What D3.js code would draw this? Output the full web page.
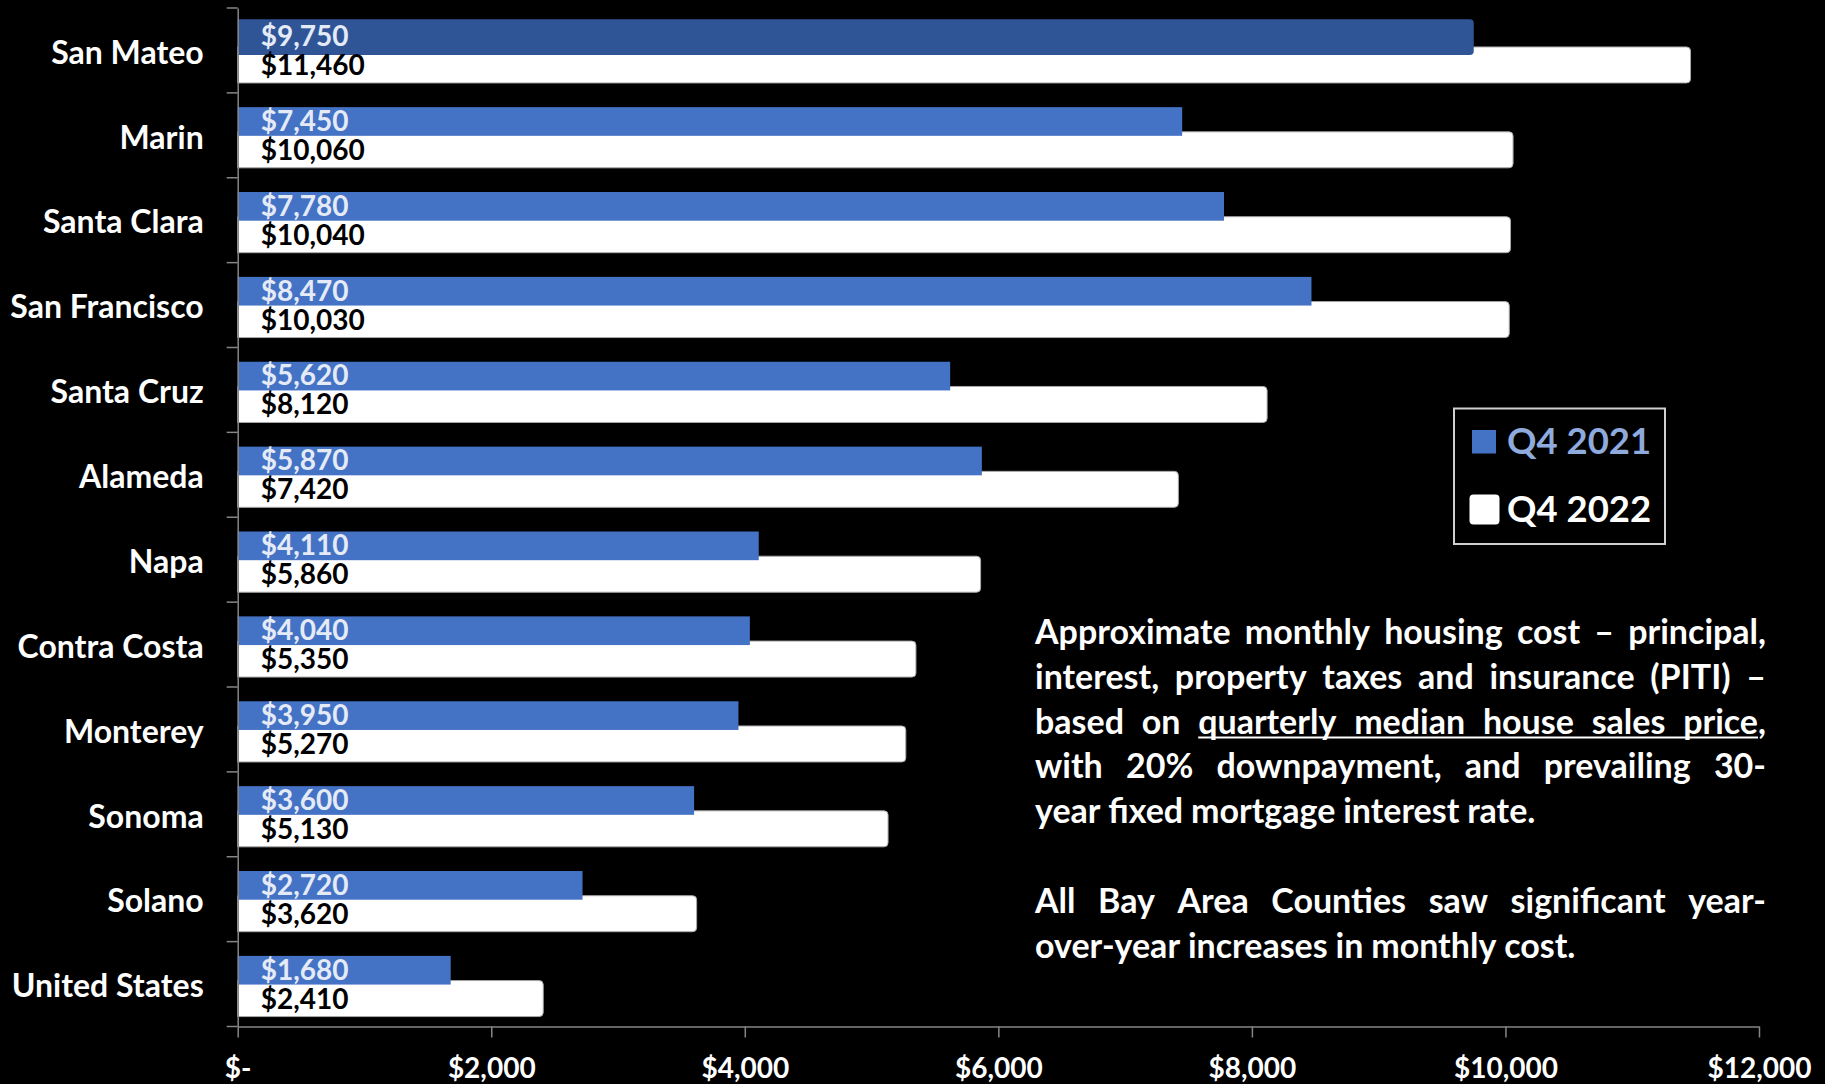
<!DOCTYPE html>
<html>
<head>
<meta charset="utf-8">
<script src="https://cdn.jsdelivr.net/npm/d3@7"></script>
<style>
  html, body { margin: 0; padding: 0; background: #000; }
  svg { display: block; }
  text { font-family: Lato, "Open Sans", sans-serif; font-weight: 700; }
</style>
</head>
<body>
<svg id="chart" width="1825" height="1084"></svg>
<script>
// ---- data ----
const categories = ["San Mateo","Marin","Santa Clara","San Francisco","Santa Cruz","Alameda","Napa","Contra Costa","Monterey","Sonoma","Solano","United States"];
const q4_2021 = [9750,7450,7780,8470,5620,5870,4110,4040,3950,3600,2720,1680];
const q4_2022 = [11460,10060,10040,10030,8120,7420,5860,5350,5270,5130,3620,2410];
const seriesNames = ["Q4 2021","Q4 2022"];
const xTickValues = [0,2000,4000,6000,8000,10000,12000];
const xTickLabels = ["$-","$2,000","$4,000","$6,000","$8,000","$10,000","$12,000"];
const highlighted = "San Mateo";
const noteParagraphs = [
  [
    [{t:"Approximate"},{t:"monthly"},{t:"housing"},{t:"cost"},{t:"–"},{t:"principal,"}],
    [{t:"interest,"},{t:"property"},{t:"taxes"},{t:"and"},{t:"insurance"},{t:"(PITI)"},{t:"–"}],
    [{t:"based"},{t:"on"},{t:"quarterly",u:true},{t:"median",u:true},{t:"house",u:true},{t:"sales",u:true},{t:"price",u:true,s:","}],
    [{t:"with"},{t:"20%"},{t:"downpayment,"},{t:"and"},{t:"prevailing"},{t:"30-"}],
    [{t:"year"},{t:"fixed"},{t:"mortgage"},{t:"interest"},{t:"rate."}]
  ],
  [
    [{t:"All"},{t:"Bay"},{t:"Area"},{t:"Counties"},{t:"saw"},{t:"significant"},{t:"year-"}],
    [{t:"over-year"},{t:"increases"},{t:"in"},{t:"monthly"},{t:"cost."}]
  ]
];

// ---- styles ----
const BLUE = "#4472C4", BLUE_HI = "#2F5597", WHITE = "#FFFFFF";
const AXIS = "#868686";

const svg = d3.select("#chart");
svg.append("rect").attr("width",1825).attr("height",1084).attr("fill","#000");

const x = d3.scaleLinear().domain([0,12000]).range([237.7,1759]);
const y = d3.scaleBand().domain(categories).range([8,1026.5]).padding(0);
const bw = y.bandwidth();
const whiteH = bw*0.424, blueH = bw*0.338;
const blueOff = bw*0.168, whiteOff = bw*0.459;

const data = categories.map((c,i)=>({c, a:q4_2021[i], b:q4_2022[i]}));

function roundRight(x0, x1, y0, h, r){
  const y1 = y0+h;
  return `M${x0},${y0}H${x1-r}Q${x1},${y0} ${x1},${y0+r}V${y1-r}Q${x1},${y1} ${x1-r},${y1}H${x0}Z`;
}

// white bars
svg.append("g").selectAll("path").data(data).join("path")
  .attr("d", d=>roundRight(x(0), x(d.b), y(d.c)+whiteOff, whiteH, 4))
  .attr("fill", WHITE).attr("stroke","#a8a8a8").attr("stroke-width",1);

// blue bars (drawn on top of white)
svg.append("g").selectAll("rect").data(data.filter(d=>d.c!==highlighted)).join("rect")
  .attr("x", x(0)).attr("y", d=>y(d.c)+blueOff)
  .attr("width", d=>x(d.a)-x(0)).attr("height", blueH)
  .attr("fill", BLUE);

// highlighted blue bar
svg.append("g").selectAll("path").data(data.filter(d=>d.c===highlighted)).join("path")
  .attr("d", d=>roundRight(x(0), x(d.a), y(d.c)+blueOff-3, blueH+7, 4))
  .attr("fill", BLUE_HI);

// value labels
const fmt = d3.format("$,");
svg.append("g").selectAll("text").data(data).join("text")
  .attr("x", x(0)+23).attr("y", d=>y(d.c)+whiteOff-1)
  .attr("font-size", 28).attr("fill", "#E4EBF7")
  .text(d=>fmt(d.a));
svg.append("g").selectAll("text").data(data).join("text")
  .attr("x", x(0)+23).attr("y", d=>y(d.c)+whiteOff+whiteH-8)
  .attr("font-size", 28).attr("fill", "#000")
  .text(d=>fmt(d.b));

// y axis
const yAxis = d3.axisLeft(y).tickSize(0).tickPadding(34);
const gy = svg.append("g").attr("transform",`translate(${x(0)},0)`).call(yAxis);
gy.select(".domain").attr("stroke",AXIS).attr("stroke-width",1.5);
gy.selectAll(".tick text").attr("font-size",32).attr("fill","#fff")
  .attr("font-family","Lato, 'Open Sans', sans-serif").attr("font-weight",700)
  .attr("dy","0.35em").attr("y", 2);
// category boundary ticks
svg.append("g").selectAll("line").data(categories.concat(["__end"])).join("line")
  .attr("x1", x(0)-11).attr("x2", x(0))
  .attr("y1", (d,i)=> y.range()[0] + i*bw).attr("y2", (d,i)=> y.range()[0] + i*bw)
  .attr("stroke", AXIS).attr("stroke-width",1.5);

// x axis
const xAxis = d3.axisBottom(x).tickValues(xTickValues)
  .tickFormat((d,i)=>xTickLabels[i]).tickSizeInner(11).tickSizeOuter(0).tickPadding(21);
const gx = svg.append("g").attr("transform",`translate(0,${y.range()[1]})`).call(xAxis);
gx.select(".domain").attr("stroke",AXIS).attr("stroke-width",1.5);
gx.selectAll(".tick line").attr("stroke",AXIS).attr("stroke-width",1.5);
gx.selectAll(".tick text").attr("font-size",28).attr("fill","#fff")
  .attr("font-family","Lato, 'Open Sans', sans-serif").attr("font-weight",700);

// legend
const lg = svg.append("g");
lg.append("rect").attr("x",1454).attr("y",408.5).attr("width",211).attr("height",135.5)
  .attr("fill","#000").attr("stroke","#d0d0d0").attr("stroke-width",2);
lg.append("rect").attr("x",1472).attr("y",430).attr("width",24).attr("height",23.5).attr("fill",BLUE);
lg.append("rect").attr("x",1469.5).attr("y",494.5).attr("width",30).attr("height",30).attr("rx",4).attr("fill",WHITE);
lg.append("text").attr("x",1507).attr("y",454).attr("font-size",36.5).attr("fill","#8FAADC").text(seriesNames[0]);
lg.append("text").attr("x",1507).attr("y",521.5).attr("font-size",36.5).attr("fill","#fff").text(seriesNames[1]);

// note (justified text)
const note = svg.append("g");
const noteX = 1035, noteW = 731, lineH = 44.8, fs = 34;
let baseY = 644;
noteParagraphs.forEach((para, pi)=>{
  para.forEach((line, li)=>{
    const justify = li < para.length-1;
    const nodes = line.map(w=>{
      const t = note.append("text").attr("y", baseY).attr("font-size",fs).attr("fill","#fff");
      t.append("tspan").text(w.t);
      if (w.s) t.append("tspan").text(w.s);
      return t;
    });
    const widths = nodes.map(n=>n.node().getComputedTextLength());
    const mainW = line.map((w,i)=> w.s ? nodes[i].select("tspan").node().getComputedTextLength() : widths[i]);
    const total = d3.sum(widths);
    const gap = justify ? (noteW-total)/(line.length-1) : fs*0.23;
    let cx = noteX;
    let uStart=null, uEnd=null;
    nodes.forEach((n,i)=>{
      n.attr("x", cx);
      if (line[i].u){ if(uStart===null) uStart=cx; uEnd=cx+mainW[i]; }
      cx += widths[i]+gap;
    });
    if (uStart!==null){
      note.append("line").attr("x1",uStart).attr("x2",uEnd)
        .attr("y1",baseY+4).attr("y2",baseY+4).attr("stroke","#fff").attr("stroke-width",2);
    }
    baseY += lineH;
  });
  baseY += lineH;
});
</script>
</body>
</html>
